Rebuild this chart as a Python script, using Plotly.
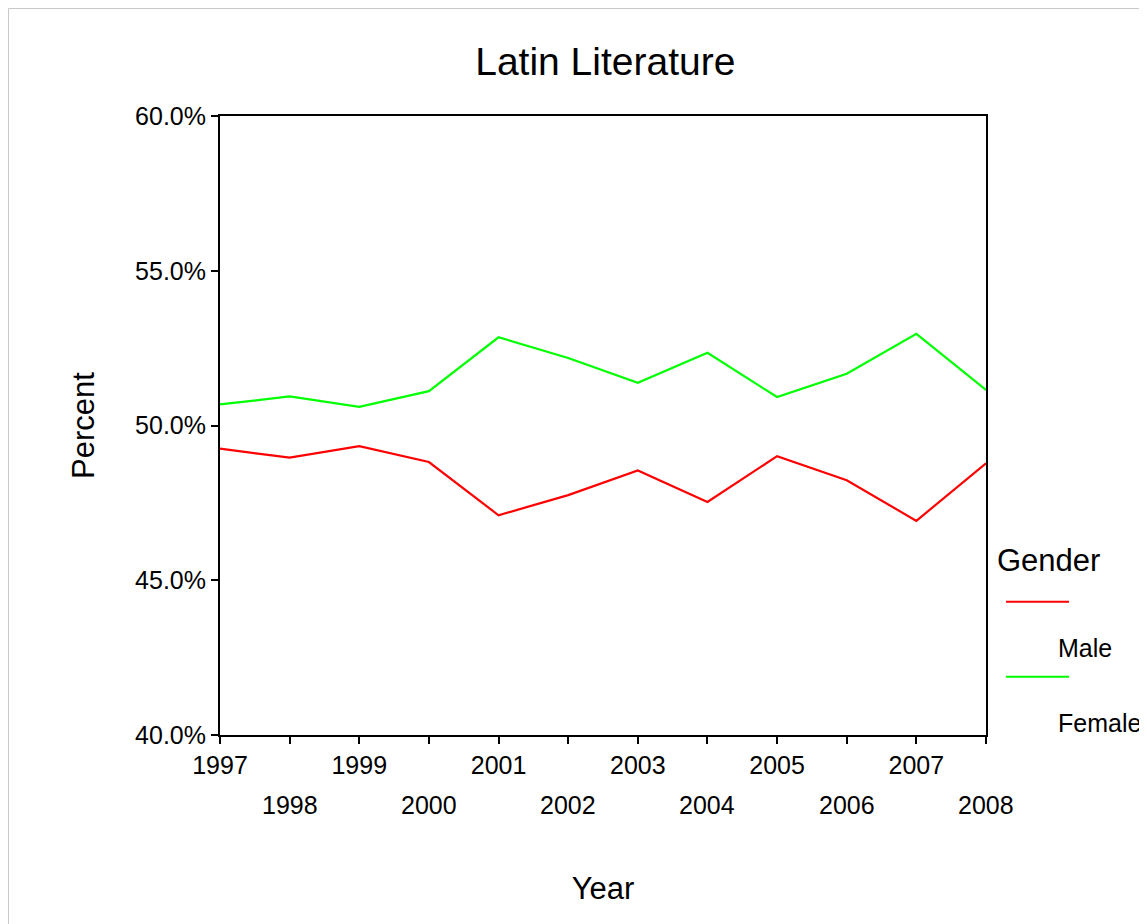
import plotly.graph_objects as go

years = list(range(1997, 2009))
female = [50.68, 50.94, 50.60, 51.11, 52.85, 52.18, 51.38, 52.35, 50.92, 51.67, 52.96, 51.15]
male = [49.25, 48.96, 49.33, 48.82, 47.10, 47.75, 48.55, 47.53, 49.01, 48.23, 46.92, 48.78]
series_names = ["Male", "Female"]
series_colors = ["#FF0000", "#00FF00"]
y_ticks = [40, 45, 50, 55, 60]
y_ticktext = ["40.0%", "45.0%", "50.0%", "55.0%", "60.0%"]

FONT = "Arial, Liberation Sans, sans-serif"

fig = go.Figure()
for name, vals, col in zip(series_names, [male, female], series_colors):
    fig.add_trace(go.Scatter(x=years, y=vals, mode="lines", name=name,
                             line=dict(color=col, width=2.2), showlegend=False))

odd_text = [str(y) if (y - 1997) % 2 == 0 else "" for y in years]

fig.update_layout(
    width=1147, height=924,
    margin=dict(l=212, r=169, t=108, b=197),
    paper_bgcolor="white", plot_bgcolor="white",
    font=dict(family=FONT, color="black", size=25),
    title=dict(text="Latin Literature", x=0.503, xref="paper", xanchor="center",
               y=1 - 53 / 924, yref="container", yanchor="middle",
               font=dict(size=39, family=FONT, color="black")),
    xaxis=dict(range=[1997, 2008], tickvals=years, ticktext=odd_text,
               showline=True, linecolor="black", linewidth=2, mirror=True,
               ticks="outside", ticklen=7, tickwidth=2, tickcolor="black",
               showgrid=False, zeroline=False,
               tickfont=dict(size=25, family=FONT),
               title=dict(text="Year", font=dict(size=31, family=FONT), standoff=99)),
    yaxis=dict(range=[40, 60], tickvals=y_ticks, ticktext=y_ticktext,
               showline=True, linecolor="black", linewidth=2, mirror=True,
               ticks="outside", ticklen=7, tickwidth=2, tickcolor="black",
               showgrid=False, zeroline=False,
               tickfont=dict(size=25, family=FONT),
               title=dict(text="Percent", font=dict(size=31, family=FONT), standoff=31)),
)

# even-year labels on a second row
for y in years:
    if (y - 1997) % 2 == 1:
        fig.add_annotation(x=y, xref="x", y=-0.113, yref="paper", text=str(y),
                           showarrow=False, xanchor="center", yanchor="middle",
                           font=dict(size=25, family=FONT, color="black"))

# legend drawn by hand to mimic the original layout
fig.add_annotation(x=1.0117, y=0.2827, xref="paper", yref="paper", text="Gender",
                   showarrow=False, xanchor="left", yanchor="middle",
                   font=dict(size=31, family=FONT, color="black"))
leg_line_y = [0.2153, 0.0942]
leg_text_y = [0.1405, 0.0199]
for name, col, ly, ty in zip(series_names, series_colors, leg_line_y, leg_text_y):
    fig.add_shape(type="line", xref="paper", yref="paper", x0=1.0261, x1=1.1084,
                  y0=ly, y1=ly, line=dict(color=col, width=2))
    fig.add_annotation(x=1.0914, y=ty, xref="paper", yref="paper", text=name,
                       showarrow=False, xanchor="left", yanchor="middle",
                       font=dict(size=25, family=FONT, color="black"))

# light outer frame
fig.add_shape(type="rect", xref="paper", yref="paper", x0=-0.2761, x1=1.4,
              y0=-0.5, y1=1.1737, line=dict(color="#C8C8C8", width=1), layer="below")

fig.write_html("out.html", config={"displayModeBar": False})
